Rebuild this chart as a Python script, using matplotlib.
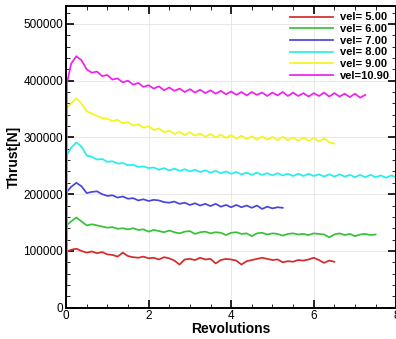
import numpy as np
import matplotlib
matplotlib.use('Agg')
from matplotlib import pyplot as plt
from matplotlib.ticker import MultipleLocator

plt.rcParams['font.family'] = ['Liberation Sans', 'DejaVu Sans']

# --- DATA (thrust in kN, sampled at 0, 0.02 and then every 0.125 rev) ---
STEP = 0.125
labels = ['vel= 5.00', 'vel= 6.00', 'vel= 7.00', 'vel= 8.00', 'vel= 9.00', 'vel=10.90']
colors = ['#d42a2a', '#36c236', '#4646dc', '#22f0f0', '#f4f41e', '#f020f0']

thrust_v5 = [0, 99, 102, 104, 100, 97, 99, 96, 98, 94, 93, 90, 97, 91, 89, 88, 90, 87,
             88, 85, 89, 87, 83, 76, 85, 86, 84, 88, 85, 86, 78, 84, 86, 85, 83, 76,
             82, 84, 86, 88, 86, 84, 85, 80, 82, 81, 84, 83, 85, 88, 84, 79, 83, 81]
thrust_v6 = [0, 146, 152, 159, 152, 145, 147, 145, 143, 141, 142, 139, 140, 138, 140,
             137, 138, 134, 137, 135, 133, 136, 133, 131, 134, 135, 130, 133, 134, 131,
             133, 132, 128, 132, 133, 130, 131, 126, 131, 132, 129, 131, 130, 127, 130,
             131, 129, 130, 128, 131, 130, 129, 124, 129, 131, 128, 130, 126, 129, 130,
             128, 129]
thrust_v7 = [0, 204, 213, 220, 214, 202, 204, 205, 200, 197, 198, 194, 196, 192, 193,
             189, 191, 188, 190, 189, 186, 185, 187, 183, 185, 181, 184, 180, 183, 179,
             183, 178, 181, 177, 181, 177, 180, 176, 180, 174, 178, 175, 177, 176]
thrust_v8 = [0, 269, 282, 291, 284, 268, 266, 261, 262, 257, 258, 254, 255, 251, 252,
             248, 249, 246, 247, 243, 246, 242, 245, 241, 244, 240, 243, 239, 242, 238,
             241, 237, 240, 236, 239, 235, 238, 234, 238, 234, 237, 233, 237, 233, 236,
             232, 236, 232, 236, 232, 235, 231, 235, 231, 235, 231, 234, 230, 234, 230,
             234, 230, 233, 229, 233, 230, 232]
thrust_v9 = [0, 352, 360, 369, 360, 346, 342, 338, 334, 333, 329, 331, 325, 327, 321,
             323, 317, 320, 313, 316, 309, 312, 306, 310, 304, 309, 303, 307, 301, 306,
             300, 305, 299, 304, 298, 303, 297, 302, 296, 302, 296, 301, 295, 301, 295,
             300, 294, 300, 294, 299, 293, 298, 292, 289]
thrust_v109 = [0, 395, 430, 443, 436, 420, 414, 416, 408, 410, 402, 404, 397, 400, 393,
               396, 389, 392, 386, 390, 383, 388, 382, 386, 380, 385, 379, 384, 378, 383,
               377, 382, 376, 381, 375, 380, 374, 380, 375, 379, 373, 379, 374, 380, 373,
               379, 373, 378, 372, 378, 373, 379, 372, 378, 372, 377, 371, 377, 370, 375]

series = [thrust_v5, thrust_v6, thrust_v7, thrust_v8, thrust_v9, thrust_v109]


def rev_grid(n):
    return np.concatenate(([0.0, 0.02], STEP * np.arange(1, n - 1)))


fig = plt.figure(figsize=(3.96, 3.39), dpi=100)
ax = fig.add_axes([0.1667, 0.0923, 0.834, 0.8908])

for vals, lbl, col in zip(series, labels, colors):
    ax.plot(rev_grid(len(vals)), np.array(vals) * 1000, color=col, lw=1.25, label=lbl)

ax.set_xlim(0, 8)
ax.set_ylim(0, 532000)
ax.xaxis.set_major_locator(MultipleLocator(2))
ax.xaxis.set_minor_locator(MultipleLocator(0.5))
ax.yaxis.set_major_locator(MultipleLocator(100000))
ax.yaxis.set_minor_locator(MultipleLocator(20000))
ax.tick_params(which='both', direction='in', top=True, right=True, labelsize=8.5, pad=2)
ax.tick_params(which='major', length=6, width=1.2)
ax.tick_params(which='minor', length=3, width=0.6)
ax.grid(True, which='major', color='#e4e4e4', lw=0.6)
ax.set_axisbelow(True)
for s in ax.spines.values():
    s.set_linewidth(1.4)

ax.set_xlabel('Revolutions', fontsize=10, fontweight='bold', labelpad=0)
ax.set_ylabel('Thrust[N]', fontsize=10, fontweight='bold', labelpad=2)

ax.legend(loc='upper right', frameon=False, prop={'size': 8, 'weight': 'bold'},
          handlelength=3.9, handletextpad=0.6, labelspacing=0.15,
          borderaxespad=0.2, bbox_to_anchor=(1.0, 1.0))

fig.savefig('out.png', dpi=100)
